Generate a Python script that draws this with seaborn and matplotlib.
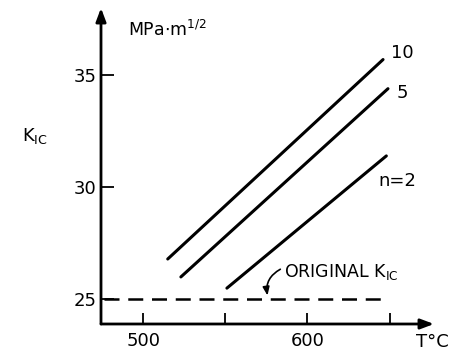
import numpy as np
import pandas as pd
import matplotlib
matplotlib.use("Agg")
import matplotlib.pyplot as plt
import seaborn as sns

# Data
n_labels = ["10", "5", "n=2"]
temp_start = [515, 523, 551]
temp_end = [646, 649, 648]
kic_start = [26.8, 26.0, 25.5]
kic_end = [35.7, 34.4, 31.4]

original_kic = 25.0
original_temp = [476, 647]

x_ticks = [500, 550, 600, 650]
x_tick_labels = ["500", "", "600", ""]
y_ticks = [25, 30, 35]
y_tick_labels = ["25", "30", "35"]

rows = []
for lab, t0, t1, k0, k1 in zip(n_labels, temp_start, temp_end, kic_start, kic_end):
    rows.append({"n": lab, "T": t0, "K": k0})
    rows.append({"n": lab, "T": t1, "K": k1})
df = pd.DataFrame(rows)

sns.set_style("white")
plt.rcParams["font.family"] = ["DejaVu Sans"]
plt.rcParams["text.color"] = "black"
plt.rcParams["xtick.color"] = "black"
plt.rcParams["ytick.color"] = "black"

fig = plt.figure(figsize=(4.73, 3.59), dpi=100)
ax = fig.add_axes([101 / 473, 35 / 359, 333 / 473, 316 / 359])

sns.lineplot(data=df, x="T", y="K", units="n", estimator=None,
             color="black", linewidth=2.2, ax=ax, legend=False)
ax.plot(original_temp, [original_kic, original_kic], color="black",
        linewidth=1.8, linestyle=(0, (6, 3.5)))

ax.set_xlim(474.4, 677)
ax.set_ylim(23.9, 38)
for s in ax.spines.values():
    s.set_visible(False)

# axes with arrows
ax.annotate("", xy=(1, 0), xytext=(0, 0), xycoords="axes fraction",
            arrowprops=dict(arrowstyle="-|>,head_length=0.8,head_width=0.3",
                            color="black", lw=2.0, shrinkA=0, shrinkB=0))
ax.annotate("", xy=(0, 1), xytext=(0, 0), xycoords="axes fraction",
            arrowprops=dict(arrowstyle="-|>,head_length=0.8,head_width=0.3",
                            color="black", lw=2.0, shrinkA=0, shrinkB=0))

ax.set_xticks(x_ticks)
ax.set_xticklabels(x_tick_labels, fontsize=13)
ax.set_yticks(y_ticks)
ax.set_yticklabels(y_tick_labels, fontsize=13)
ax.tick_params(axis="x", bottom=True, direction="in", length=8, width=1.3, pad=6)
ax.tick_params(axis="y", left=True, direction="in", length=9, width=1.3, pad=3)
ax.set_xlabel("")
ax.set_ylabel("")

# line labels
label_dy = {"10": 0.3, "5": -0.2, "n=2": -1.1}
for lab, t1, k1 in zip(n_labels, temp_end, kic_end):
    dx = -5 if lab == "n=2" else 5
    ax.text(t1 + dx, k1 + label_dy[lab], lab, fontsize=13, ha="left", va="center")

# original K_IC label with curly leader
ax.text(586, 26.2, "ORIGINAL K$_{\\mathregular{IC}}$", fontsize=12.5,
        ha="left", va="center")
ax.annotate("", xy=(576, 25.05), xytext=(585, 26.4),
            arrowprops=dict(arrowstyle="-|>,head_length=0.5,head_width=0.2",
                            color="black", lw=1.2,
                            connectionstyle="arc3,rad=0.4"))

fig.text(128 / 473, 1 - 30 / 359, "MPa$\\cdot$m$^{\\mathregular{1/2}}$",
         fontsize=12.5, ha="left", va="center")
fig.text(22 / 473, 1 - 136 / 359, "K$_{\\mathregular{IC}}$", fontsize=13,
         ha="left", va="center")
fig.text(416 / 473, 1 - 342 / 359, "T°C", fontsize=13, ha="left", va="center")

fig.savefig("out.png", dpi=100)
